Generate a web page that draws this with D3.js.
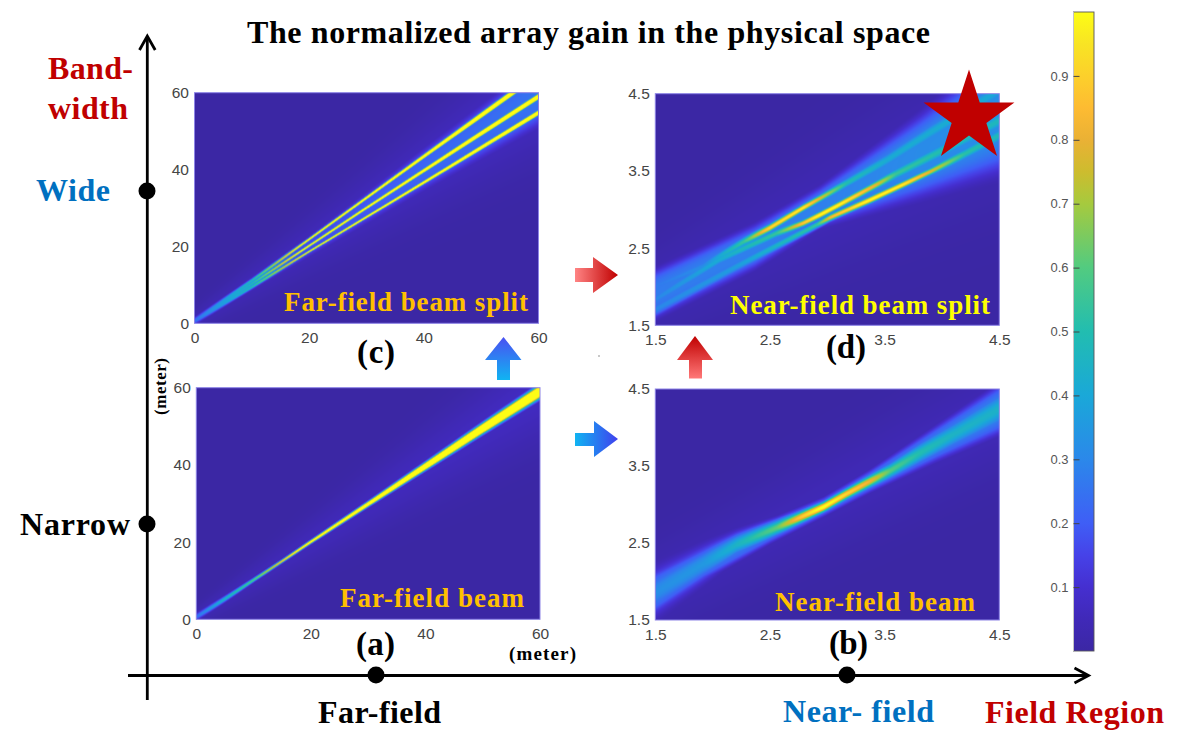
<!DOCTYPE html>
<html><head><meta charset="utf-8">
<script src="https://cdn.jsdelivr.net/npm/d3@7"></script>
<style>html,body{margin:0;padding:0;background:#fff}svg{display:block}</style>
</head><body><svg id="c" width="1186" height="751"></svg>
<script>
// colour scale stops
const cbValues=[0,0.05,0.1,0.15,0.2,0.3,0.4,0.5,0.6,0.7,0.75,0.8,0.85,0.9,0.95,1];
const cbColors=["#3b27a4","#4029b8","#452fd0","#4642e8","#3f5ef6","#2b88ea","#1aa8d8","#22bdb0","#52cb80","#a6ca3e","#cdbc2e","#eab135","#fdbb32","#fcd02b","#f8e424","#fdfd14"];
const cbTicks=[0.1,0.2,0.3,0.4,0.5,0.6,0.7,0.8,0.9];

// axis ticks
const farTicks=[0,20,40,60];
const nearTicks=[1.5,2.5,3.5,4.5];

// (a) far-field beam: stations along the range axis
const aCoreX=[0,5,10,15,20,30,40,50,60];
const aCoreY=[0.5,5.2,10.1,15,20,29.8,39.6,49.4,59];
const aCoreW=[0.9,0.7,0.5,0.42,0.45,0.62,0.9,1.2,1.5];
const aCoreP=[0.25,0.45,0.6,0.9,1.2,1.5,1.7,1.8,1.8];
const aGlowX=[0,60];
const aGlowY=[0.5,59];
const aGlowW=[2.5,13];
const aGlowP=[0.04,0.07];

// (c) far-field beam split
const cTopX=[0,10,20,30,40,50,55.5,60];
const cTopY=[0.5,11,21.8,32.6,43.4,54.1,60,64.9];
const cTopW=[0.9,0.55,0.36,0.4,0.5,0.65,0.7,0.75];
const cTopP=[0.25,0.5,1.15,1.4,1.6,1.8,1.8,1.8];
const cMidX=[0,10,20,30,40,50,60];
const cMidY=[0.5,10.2,20.1,30,39.7,49.4,59];
const cMidW=[0.9,0.55,0.34,0.38,0.48,0.6,0.68];
const cMidP=[0.25,0.5,1.15,1.4,1.6,1.8,1.8];
const cLowX=[0,10,20,30,40,50,60];
const cLowY=[0.5,9.4,18.6,27.6,36.6,45.7,54.8];
const cLowW=[0.9,0.55,0.3,0.33,0.4,0.5,0.6];
const cLowP=[0.25,0.5,1.05,1.35,1.55,1.8,1.8];
const cHazeX=[0,20,40,60];
const cHazeY=[0.5,20,40,59.5];
const cHazeW=[1,2.7,5.2,8];
const cHazeP=[0.1,0.16,0.22,0.25];
const cGlowX=[0,60];
const cGlowY=[0.5,60];
const cGlowW=[3,15];
const cGlowP=[0.04,0.08];

// (b) near-field beam
const bCoreX=[1.5,1.92,2.21,2.56,2.73,2.97,3.17,3.37,3.55,3.81,4.1,4.5];
const bCoreY=[1.86,2.23,2.48,2.7,2.81,2.97,3.14,3.3,3.44,3.67,3.91,4.24];
const bCoreW=[0.26,0.2,0.14,0.1,0.08,0.065,0.07,0.08,0.1,0.14,0.17,0.22];
const bCoreP=[0.32,0.35,0.45,0.62,0.85,1.05,0.92,0.82,0.6,0.5,0.45,0.44];
const bHazeX=[1.5,1.92,2.5,2.97,3.37,3.95,4.5];
const bHazeY=[1.86,2.23,2.65,2.97,3.3,3.79,4.24];
const bHazeW=[0.27,0.21,0.15,0.12,0.14,0.22,0.31];
const bHazeP=[0.26,0.26,0.25,0.24,0.25,0.27,0.28];
const bGlowX=[1.5,4.5];
const bGlowY=[1.9,4.2];
const bGlowW=[0.55,0.7];
const bGlowP=[0.04,0.05];

// (d) near-field beam split
const dTopX=[1.5,1.92,2.27,2.5,2.79,2.97,3.17,3.52,3.9,4.2,4.5];
const dTopY=[2,2.26,2.58,2.76,3.02,3.17,3.34,3.64,4,4.27,4.55];
const dTopW=[0.1,0.09,0.065,0.05,0.045,0.05,0.07,0.1,0.12,0.13,0.14];
const dTopP=[0.27,0.32,0.55,0.95,1,0.75,0.5,0.42,0.42,0.42,0.4];
const dMidX=[1.5,2.06,2.56,2.79,2.94,3.08,3.43,3.6,4.01,4.5];
const dMidY=[1.83,2.35,2.69,2.82,2.93,3.04,3.32,3.46,3.77,4.15];
const dMidW=[0.1,0.08,0.06,0.045,0.045,0.045,0.055,0.08,0.1,0.12];
const dMidP=[0.3,0.42,0.55,0.9,1.05,1.05,0.8,0.55,0.5,0.47];
const dLowX=[1.5,2.21,2.91,3.02,3.37,3.66,3.9,4.2,4.5];
const dLowY=[1.7,2.26,2.8,2.89,3.12,3.32,3.49,3.72,3.96];
const dLowW=[0.1,0.08,0.05,0.045,0.045,0.045,0.05,0.08,0.1];
const dLowP=[0.3,0.37,0.55,0.85,1.05,1,0.8,0.52,0.48];
const dHazeX=[1.5,2.37,2.94,3.81,4.5];
const dHazeY=[1.9,2.52,3.03,3.69,4.25];
const dHazeW=[0.3,0.27,0.25,0.5,0.72];
const dHazeP=[0.27,0.28,0.28,0.31,0.32];
const dGlowX=[1.5,4.5];
const dGlowY=[1.9,4.2];
const dGlowW=[0.55,1];
const dGlowP=[0.04,0.05];

const W="Liberation Serif", S="Liberation Sans";
const svg=d3.select("#c");
const defs=svg.append("defs");

const colorOf=d3.scaleLinear(cbValues,cbColors).clamp(true);
const lut=d3.range(1025).map(i=>d3.rgb(colorOf(i/1024)));

function beam(x,y,w,p,e){
  return {y:d3.scaleLinear(x,y),w:d3.scaleLinear(x,w).clamp(true),p:d3.scaleLinear(x,p).clamp(true),e:e||2};
}
function heat(left,right,top,bottom,dom,beams,ticks,tickY){
  const xs=d3.scaleLinear(dom,[left,right]), ys=d3.scaleLinear(dom,[bottom,top]);
  const nx=Math.round(right-left), ny=Math.round(bottom-top);
  const cv=document.createElement("canvas");cv.width=nx;cv.height=ny;
  const ctx=cv.getContext("2d"), img=ctx.createImageData(nx,ny);
  for(let i=0;i<nx;i++){
    const xv=xs.invert(left+i+0.5);
    const col=beams.map(b=>[b.y(xv),b.w(xv),b.p(xv),b.e]);
    for(let j=0;j<ny;j++){
      const yv=ys.invert(top+j+0.5);
      let v=0;
      for(const c of col){
        const t=Math.abs(yv-c[0])/c[1];
        if(t<4){const u=c[2]*Math.exp(-Math.pow(t,c[3])); if(u>v)v=u;}
      }
      const q=lut[Math.min(1024,Math.round(v*1024))], k=(j*nx+i)*4;
      img.data[k]=q.r;img.data[k+1]=q.g;img.data[k+2]=q.b;img.data[k+3]=255;
    }
  }
  ctx.putImageData(img,0,0);
  svg.append("image").attr("x",left).attr("y",top).attr("width",right-left).attr("height",bottom-top)
    .attr("preserveAspectRatio","none").attr("href",cv.toDataURL());
  svg.append("rect").attr("x",left).attr("y",top).attr("width",right-left).attr("height",bottom-top)
    .attr("fill","none").attr("stroke","#8d84e6").attr("stroke-width",1);
  const gx=svg.append("g").attr("transform",`translate(0,${tickY})`).call(d3.axisBottom(xs).tickValues(ticks).tickSize(0).tickPadding(0));
  const gy=svg.append("g").attr("transform",`translate(${left-5.5},0)`).call(d3.axisLeft(ys).tickValues(ticks).tickSize(0).tickPadding(0));
  [gx,gy].forEach(g=>{g.select(".domain").remove();
    g.selectAll("text").attr("font-family",S).attr("font-size",15.5).attr("fill","#454545");});
  gx.selectAll("text").attr("dy","0.35em").attr("y",0);
  return [xs,ys];
}

heat(196.3,540,387.7,619.3,[0,60],[
  beam(aGlowX,aGlowY,aGlowW,aGlowP),
  beam(aCoreX,aCoreY,aCoreW,aCoreP)],farTicks,634);
heat(194.5,538.5,92.7,323.3,[0,60],[
  beam(cGlowX,cGlowY,cGlowW,cGlowP),
  beam(cHazeX,cHazeY,cHazeW,cHazeP,4),
  beam(cTopX,cTopY,cTopW,cTopP),
  beam(cMidX,cMidY,cMidW,cMidP),
  beam(cLowX,cLowY,cLowW,cLowP)],farTicks,338);
heat(655.3,999.3,389,620,[1.5,4.5],[
  beam(bGlowX,bGlowY,bGlowW,bGlowP),
  beam(bHazeX,bHazeY,bHazeW,bHazeP,4),
  beam(bCoreX,bCoreY,bCoreW,bCoreP)],nearTicks,635);
heat(655.3,999.3,93.7,325.3,[1.5,4.5],[
  beam(dGlowX,dGlowY,dGlowW,dGlowP),
  beam(dHazeX,dHazeY,dHazeW,dHazeP,4),
  beam(dTopX,dTopY,dTopW,dTopP),
  beam(dMidX,dMidY,dMidW,dMidP),
  beam(dLowX,dLowY,dLowW,dLowP)],nearTicks,340);

// colour bar
const cbY=d3.scaleLinear([0,1],[651,12]);
const cbGrad=defs.append("linearGradient").attr("id","cb").attr("x1",0).attr("x2",0).attr("y1",1).attr("y2",0);
cbValues.forEach((v,i)=>cbGrad.append("stop").attr("offset",v).attr("stop-color",cbColors[i]));
svg.append("rect").attr("x",1073.5).attr("y",12).attr("width",20.5).attr("height",639)
  .attr("fill","url(#cb)").attr("stroke","#55555a").attr("stroke-width",0.9);
svg.append("line").attr("x1",1073.5).attr("x2",1073.5).attr("y1",12).attr("y2",651).attr("stroke","#c4c4c4").attr("stroke-width",1);
const cbAxis=svg.append("g").attr("transform","translate(1073.5,0)")
  .call(d3.axisLeft(cbY).tickValues(cbTicks).tickFormat(d3.format(".1f")).tickSize(-6).tickPadding(5));
cbAxis.select(".domain").remove();
cbAxis.selectAll("line").attr("stroke","#444").attr("stroke-width",1);
cbAxis.selectAll("text").attr("font-family",S).attr("font-size",13).attr("fill","#555");

// framing axes
const headV=d3.path();headV.moveTo(139.5,50);headV.lineTo(147.3,36);headV.lineTo(155.2,50);
const headH=d3.path();headH.moveTo(1074.5,668);headH.lineTo(1088.5,675.5);headH.lineTo(1074.5,683);
svg.append("line").attr("x1",147.3).attr("x2",147.3).attr("y1",700).attr("y2",37).attr("stroke","#000").attr("stroke-width",2.8);
svg.append("line").attr("x1",128).attr("x2",1087).attr("y1",675.5).attr("y2",675.5).attr("stroke","#000").attr("stroke-width",2.8);
svg.append("path").attr("d",headV.toString()).attr("fill","none").attr("stroke","#000").attr("stroke-width",2.8);
svg.append("path").attr("d",headH.toString()).attr("fill","none").attr("stroke","#000").attr("stroke-width",2.8);
[[147,191],[147,524],[376,675],[847,675]].forEach(d=>svg.append("circle").attr("cx",d[0]).attr("cy",d[1]).attr("r",8.5));
svg.append("circle").attr("cx",599).attr("cy",356).attr("r",0.7).attr("fill","#666");

// block arrows
function grad(id,x1,y1,x2,y2,c1,c2){
  const g=defs.append("linearGradient").attr("id",id).attr("x1",x1).attr("y1",y1).attr("x2",x2).attr("y2",y2);
  g.append("stop").attr("offset",0).attr("stop-color",c1);
  g.append("stop").attr("offset",1).attr("stop-color",c2);
}
grad("bu",0,0,0,1,"#4a50f2","#10b4f2");
grad("ru",0,0,0,1,"#c00000","#ff7878");
grad("rr",0,0,1,0,"#ff8484","#c00000");
grad("br",0,0,1,0,"#10b4f2","#4040ee");
const poly=(pts,id)=>svg.append("polygon").attr("points",pts.map(p=>p.join(",")).join(" ")).attr("fill",`url(#${id})`);
poly([[503.5,337],[521.5,360],[510,360],[510,380],[497,380],[497,360],[485,360]],"bu");
poly([[695,336],[713,360],[702,360],[702,378.5],[689,378.5],[689,360],[677,360]],"ru");
poly([[575,268],[593,268],[593,257],[618,275],[593,293],[593,282],[575,282]],"rr");
poly([[575,433],[594,433],[594,421],[618,439],[594,457],[594,446],[575,446]],"br");

// star
svg.append("path").attr("d",d3.symbol(d3.symbolStar,2560)()).attr("transform","translate(969,117.3)").attr("fill","#c00000");

// text
function label(t,x,y,size,fill,len){
  const e=svg.append("text").attr("x",x).attr("y",y).attr("font-family",W).attr("font-weight","bold")
   .attr("font-size",size).attr("fill",fill).text(t);
  if(len)e.attr("textLength",len).attr("lengthAdjust","spacing");
  return e;
}
label("The normalized array gain in the physical space",247,43,32,"#000",683);
label("Band-",48,79,32,"#c00000",85);
label("width",48,119,32,"#c00000",80);
label("Wide",36,201,32,"#0070c0",74);
label("Narrow",20,535,32,"#000",110);
label("Far-field",318,723,32,"#000",123);
label("Near- field",783,722,32,"#0070c0",151);
label("Field Region",985,723,32,"#c00000",179);
label("(c)",357,363,33,"#000",38);
label("(d)",826,358,33,"#000",40);
label("(a)",356,655,33,"#000",39);
label("(b)",829,654,33,"#000",39);
label("Far-field beam split",284,311,27,"#ffc000",244);
label("Near-field beam split",730,314,27,"#ffff00",260);
label("Far-field beam",340,607,27,"#ffc000",184);
label("Near-field beam",775,611,27,"#ffc000",200);
label("(meter)",509,660,19,"#000",67);
label("(meter)",0,0,17,"#000",57).attr("transform","translate(166,415) rotate(-90)");
</script></body></html>
